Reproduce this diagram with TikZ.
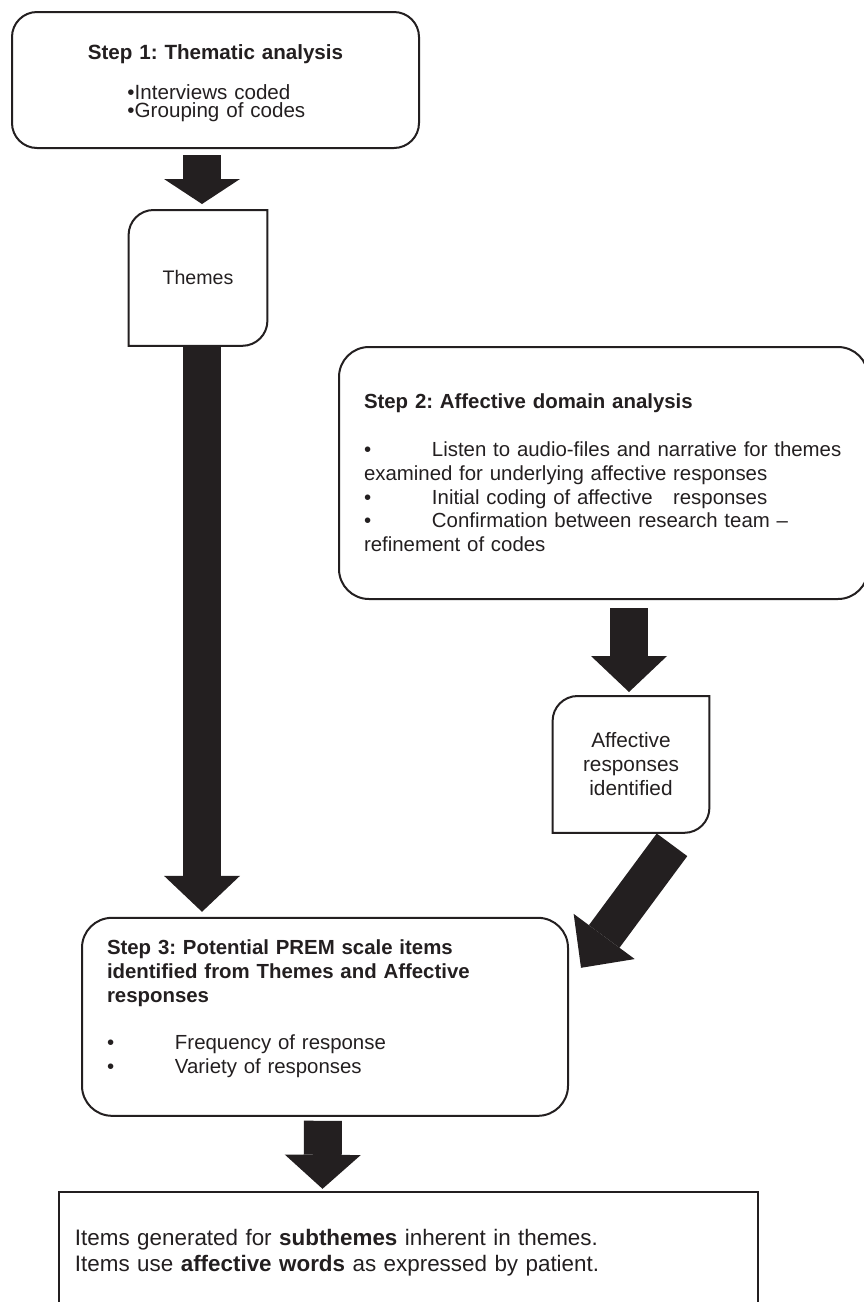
\documentclass[tikz,border=0pt]{standalone}
\usepackage{fontspec}
\setmainfont{Liberation Sans}
\frenchspacing
\usetikzlibrary{arrows.meta}
\usetikzlibrary{positioning}
\definecolor{ink}{RGB}{35,31,32}
\tikzset{
    stepbox/.style = {draw=ink, line width=1pt, rounded corners=15pt, inner sep=0pt,
                 text=ink, align=left, font=\fontsize{10.2}{12}\selectfont},
    tagbox/.style = {inner sep=0pt, text=ink, align=center,
                 minimum width=78pt, minimum height=68pt, font=\fontsize{10.4}{12}\selectfont},
    fatarrow/.style = {draw=ink, line width=19pt, -{Triangle[length=#1,width=38pt,line width=0pt]}},
    fatarrow/.default = 18pt,
}
\newcommand{\tagframe}[1]{%
  \draw[ink, line width=1pt] (#1.north east) -- ([xshift=12.5pt]#1.north west)
    arc[start angle=90, end angle=180, radius=12.5pt] -- (#1.south west)
    -- ([xshift=-12.5pt]#1.south east) arc[start angle=270, end angle=360, radius=12.5pt] -- cycle;}

\begin{document}
\begin{tikzpicture}
\useasboundingbox (0,0) rectangle (431.5pt,-651pt);
\node (step1) [stepbox, rounded corners=12.5pt, text width=190pt, align=center,
    minimum width=203.5pt, minimum height=68pt, font=\fontsize{10.3}{12}\selectfont] at (107.75pt,-40pt)
    {\rule{0pt}{10.75pt}\textbf{Step 1: Thematic analysis}\\[8pt]
     \makebox[88pt][l]{•Interviews coded}\\[-3pt]
     \makebox[88pt][l]{•Grouping of codes}};
\node (themes) [tagbox, minimum width=69pt, minimum height=67.5pt, font=\fontsize{9.8}{12}\selectfont,
    xshift=-8.75pt, below=30.5pt of step1] {Themes};
\tagframe{themes}
\node (step2) [stepbox, text width=239.5pt, minimum width=264.5pt, minimum height=126pt,
    font=\fontsize{10.2}{11.9}\selectfont, below right=98.5pt and -41pt of step1]
    {\textbf{Step 2: Affective domain analysis}\\[12pt]
     \makebox[34pt][l]{•}\mbox{Listen to audio-files and narrative for themes}\\
     examined for underlying affective responses\\
     \makebox[34pt][l]{•}Initial coding of affective\ \ \ responses\\
     \makebox[34pt][l]{•}Confirmation between research team –\\
     refinement of codes};
\node (affect) [tagbox, xshift=13.75pt, below=48pt of step2] {Affective\\responses\\identified};
\tagframe{affect}
\node (step3) [stepbox, text width=218pt, minimum width=243pt, minimum height=99pt,
    xshift=63.5pt, below=285.5pt of themes]
    {\textbf{Step 3: Potential PREM scale items\\identified from Themes and Affective\\responses}\\[11.5pt]
     \makebox[34pt][l]{•}Frequency of response\\
     \makebox[34pt][l]{•}Variety of responses\rule[-9.75pt]{0pt}{9.75pt}};
\node (items) [stepbox, sharp corners, text width=333.5pt, minimum width=349.5pt, minimum height=61pt,
    font=\fontsize{11.2}{13}\selectfont, xshift=41.75pt, below=37pt of step3]
    {Items generated for \textbf{subthemes} inherent in themes.\\
     Items use \textbf{affective words} as expressed by patient.};
\draw[fatarrow=12.5pt, shorten <=3pt, shorten >=3pt] ([xshift=-6.75pt]step1.south) -- ([xshift=2pt]themes.north);
\draw[fatarrow, shorten >=2.5pt] ([xshift=2pt]themes.south) -- ([xshift=-61.5pt]step3.north);
\draw[fatarrow, shorten <=4pt, shorten >=2pt] ([xshift=12.75pt]step2.south) -- ([xshift=-1pt]affect.north);
\draw[fatarrow=19.5pt] ([xshift=20.5pt,yshift=-6pt]affect.south) -- ([xshift=6pt,yshift=-25.5pt]step3.north east);
\draw[fatarrow=17pt, shorten <=2pt, shorten >=1pt] ([xshift=-1pt]step3.south) -- ([xshift=-43pt]items.north);
\end{tikzpicture}
\end{document}
